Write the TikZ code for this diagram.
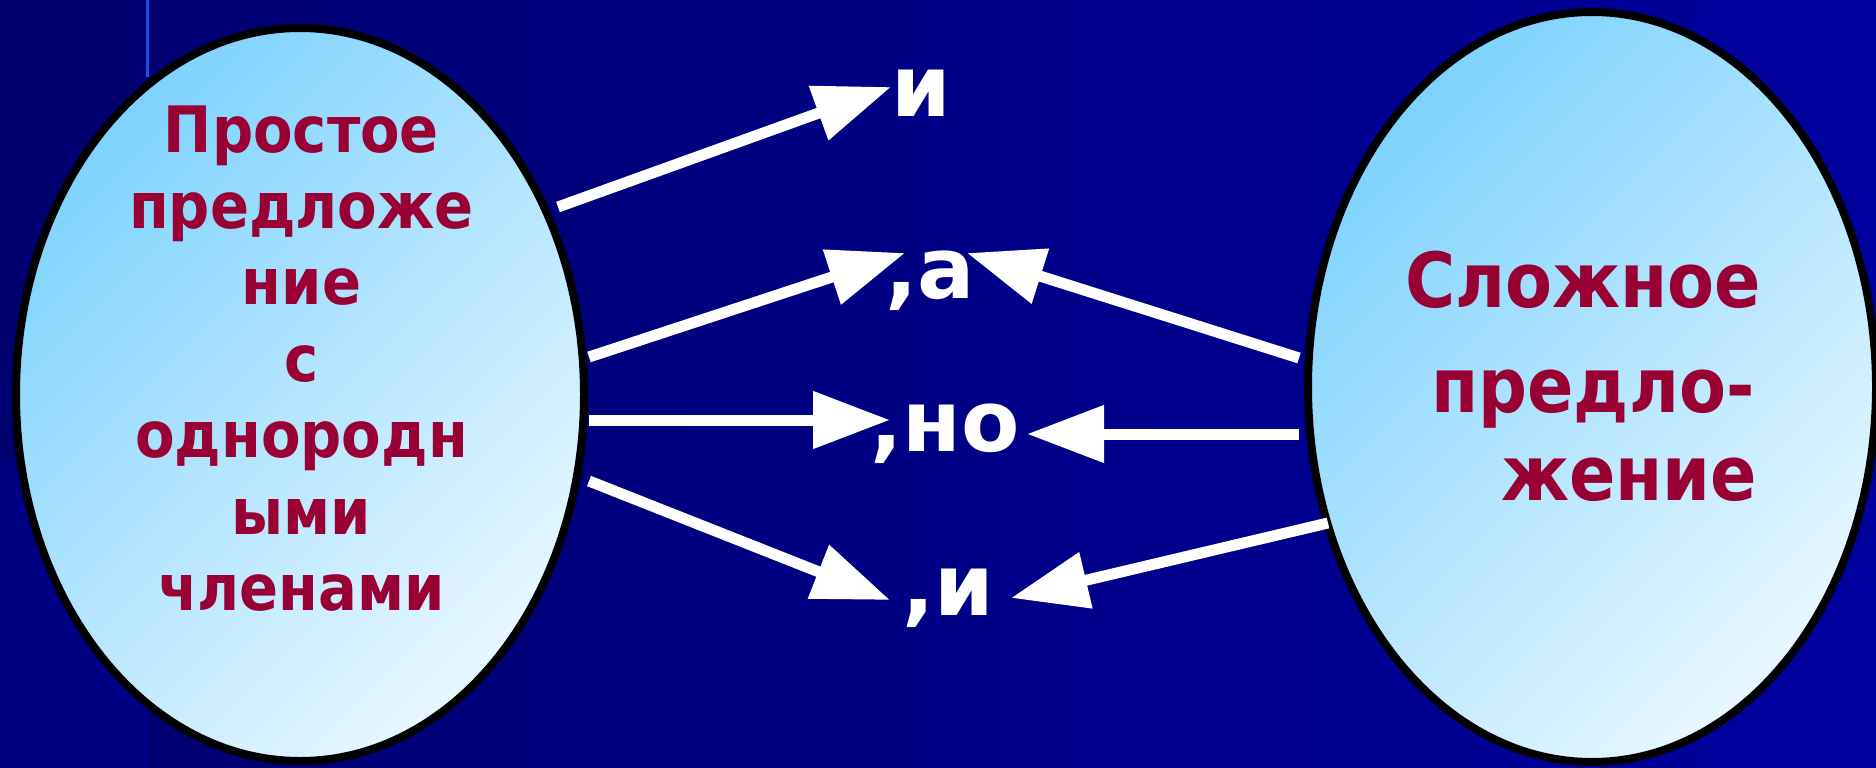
\documentclass[tikz,border=0pt]{standalone}
\usepackage{fontspec}
\setmainfont{DejaVu Sans}
\newfontfamily\condfont[BoldFont={DejaVu Sans Condensed Bold}]{DejaVu Sans Condensed}
\usetikzlibrary{shapes.geometric,arrows.meta}
\definecolor{bgL}{HTML}{00006E}
\definecolor{bgM}{HTML}{000082}
\definecolor{bgR}{HTML}{00009E}
\definecolor{stripc}{HTML}{000084}
\definecolor{linec}{HTML}{1A50F0}
\definecolor{txt}{HTML}{990033}
\definecolor{elA}{HTML}{7ED3FE}
\definecolor{elB}{HTML}{E8F7FF}
\begin{document}
\begin{tikzpicture}[x=1pt,y=-1pt,
  bubble/.style={ellipse, draw=black, line width=8pt, inner sep=0pt, minimum width=568pt, top color=elA, bottom color=elB, shading angle=45},
  ltxt/.style={text=txt, font=\condfont\bfseries\fontsize{64}{64}\selectfont, anchor=base, inner sep=0pt},
  rtxt/.style={text=txt, font=\condfont\bfseries\fontsize{76}{76}\selectfont, anchor=base, inner sep=0pt},
  lbl/.style={text=white, font=\bfseries\fontsize{85}{85}\selectfont, anchor=base, inner sep=0pt},
  conn/.style={draw=white, line width=11pt, -{Triangle[length=77pt,width=55pt]}}]
\useasboundingbox (0,0) rectangle (1876,768);
% background
\fill[left color=bgL, middle color=bgM, right color=bgR] (0,0) rectangle (1876,768);
\fill[stripc] (0,463) rectangle (147,768);
\draw[linec, line width=3pt] (147,0) -- (147,77);
% ellipses
\node[bubble, minimum height=733pt] (L) at (300,394.5) {};
\node[bubble, minimum height=750pt] (R) at (1592,387) {};
% left text
\node[ltxt] (l1) at (301.5,152) {Простое};
\node[ltxt] (l2) at (301.5,228) {предложе};
\node[ltxt] (l3) at (301.5,304) {ние};
\node[ltxt] (l4) at (301.5,381) {с};
\node[ltxt] (l5) at (301.5,457) {однородн};
\node[ltxt] (l6) at (301.5,534) {ыми};
\node[ltxt] (l7) at (301.5,610) {членами};
% right text
\node[rtxt] (r1) at (1583,307) {Сложное};
\node[rtxt] (r2) at (1593,412) {предло-};
\node[rtxt] (r3) at (1629,500) {жение};
% labels
\node[lbl] (c1) at (921,116) {и};
\node[lbl] (c2) at (930,298) {,а};
\node[lbl] (c3) at (945,451) {,но};
\node[lbl] (c4) at (948,615) {,и};
% connector ends
\coordinate (s1) at (558,207); \coordinate (t1) at (891,87);
\coordinate (s2) at (589,357); \coordinate (t2) at (905,253);
\coordinate (s3) at (589,420); \coordinate (t3) at (890,420);
\coordinate (s4) at (589,481); \coordinate (t4) at (890,600);
\coordinate (s5) at (1299,358); \coordinate (t5) at (967,253);
\coordinate (s6) at (1299,434); \coordinate (t6) at (1027,434);
\coordinate (s7) at (1328,523); \coordinate (t7) at (1011,598);
\draw[conn] (s1) -- (t1);
\draw[conn] (s2) -- (t2);
\draw[conn] (s3) -- (t3);
\draw[conn] (s4) -- (t4);
\draw[conn] (s5) -- (t5);
\draw[conn] (s6) -- (t6);
\draw[conn] (s7) -- (t7);
\end{tikzpicture}
\end{document}
